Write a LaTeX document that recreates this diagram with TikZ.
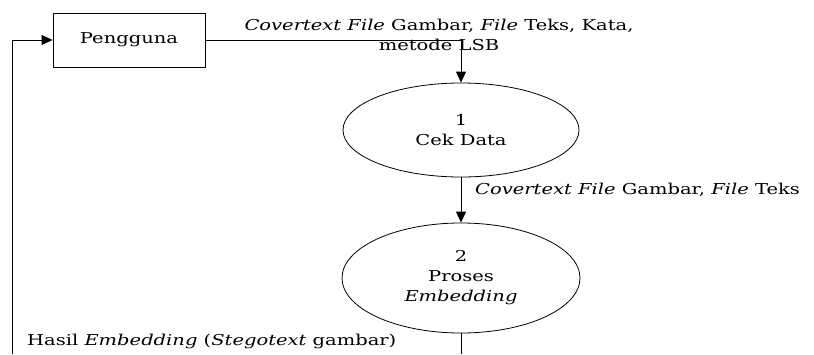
\documentclass[tikz,border=0pt]{standalone}
\usepackage{fontspec}
\setmainfont{DejaVu Serif}[FakeStretch=1.3]
\usetikzlibrary{arrows.meta,positioning,shapes.geometric}

\begin{document}
\begin{tikzpicture}[x=1pt,y=-1pt,
  font=\fontsize{15}{20}\selectfont,
  flow/.style={line width=1pt},
  arr/.style={flow,-{Triangle[width=10pt,length=11pt]}},
  entity/.style={draw, line width=1pt, minimum width=152pt, minimum height=54pt, inner sep=0pt},
  proc/.style={draw, ellipse, line width=0.8pt, align=center, inner sep=0pt},
  lbl/.style={inner sep=0pt, anchor=west}]

  \useasboundingbox (0,0) rectangle (814,354);

  \node[entity] (P) at (129,40) {Pengguna};
  \node[proc, minimum width=236pt, minimum height=94pt] (C1) at (461,130) {1\\Cek Data};
  \node[proc, minimum width=238pt, minimum height=110pt] (C2) at (461,278) {2\\Proses\\\emph{Embedding}};

  \coordinate (B1) at (461,354);
  \coordinate (B2) at (12,354);

  % data flows
  \draw[arr] (P.east) -| (C1.north);
  \draw[arr] (C1.south) -- (C2.north);
  \draw[flow] (C2.south) -- (B1);
  \draw[arr] (B2) |- (P.west);

  % labels
  \node[inner sep=0pt, align=center] (L1) at (439,35) {\emph{Covertext File} Gambar, \emph{File} Teks, Kata,\\metode LSB};
  \node[lbl] (L3) at (475,190) {\emph{Covertext File} Gambar, \emph{File} Teks};
  \node[lbl] (L4) at (27,341) {Hasil \emph{Embedding} (\emph{Stegotext} gambar)};
\end{tikzpicture}
\end{document}
